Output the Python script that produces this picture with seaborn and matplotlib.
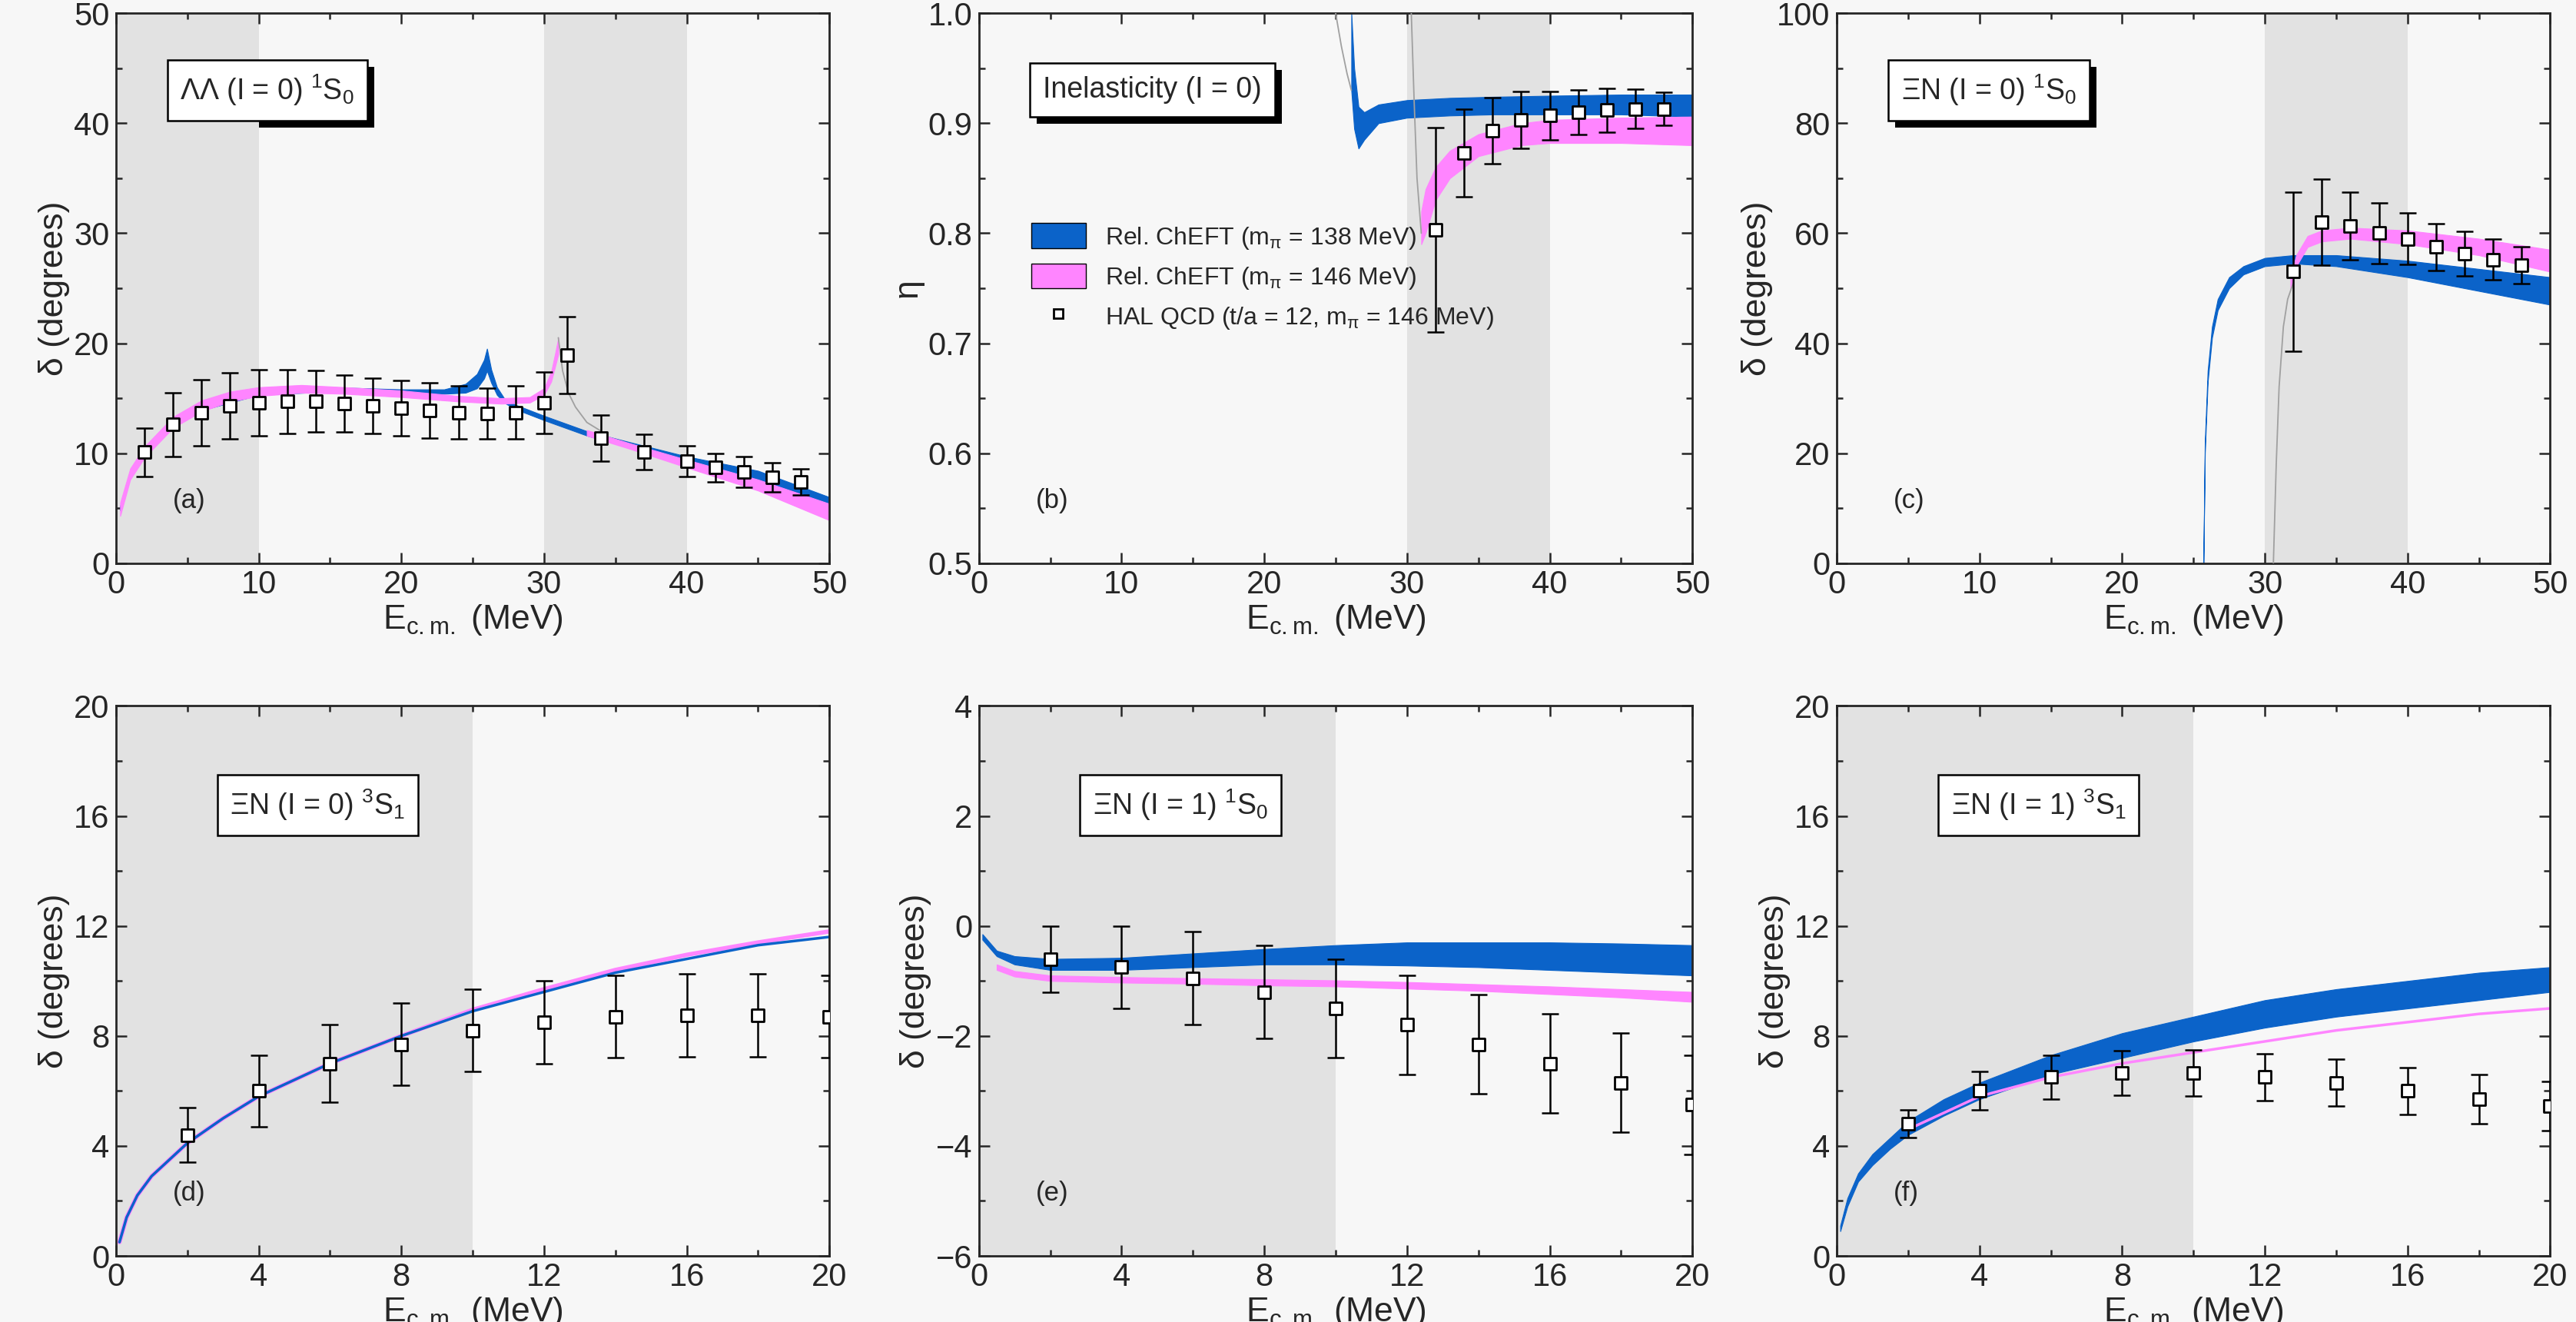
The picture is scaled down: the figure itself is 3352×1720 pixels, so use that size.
import numpy as np
import matplotlib
matplotlib.use("Agg")
import matplotlib.pyplot as plt
from matplotlib.patches import Patch, Rectangle
from matplotlib.lines import Line2D
import seaborn as sns

BLUE = "#0b63c9"
PINK = "#ff85ff"
SHADE = "#e2e2e2"

# ---------------- data ----------------
# (a) LambdaLambda 1S0
a_hal_x = [2, 4, 6, 8, 10, 12, 14, 16, 18, 20, 22, 24, 26, 28, 30, 31.6, 34, 37, 40, 42, 44, 46, 48]
a_hal_y = [10.1, 12.6, 13.7, 14.3, 14.6, 14.7, 14.7, 14.5, 14.3, 14.1, 13.9, 13.7, 13.6, 13.7, 14.6, 18.9, 11.4, 10.1, 9.3, 8.7, 8.3, 7.8, 7.4]
a_hal_e = [2.2, 2.9, 3.0, 3.0, 3.0, 2.9, 2.8, 2.6, 2.5, 2.5, 2.5, 2.4, 2.3, 2.4, 2.8, 3.5, 2.1, 1.6, 1.4, 1.3, 1.4, 1.3, 1.2]
a_blue_x = [0.3, 1, 2, 4, 6, 10, 15, 20, 23, 24.5, 25.3, 25.8, 26.0, 26.3, 26.7, 27.2, 28, 30, 33, 36, 40, 45, 50]
a_blue_lo = [4.8, 7.8, 9.8, 12.4, 13.9, 15.3, 15.6, 15.4, 15.4, 15.5, 15.9, 16.8, 17.5, 16.4, 15.3, 14.6, 14.0, 13.0, 11.6, 10.5, 9.0, 7.4, 5.2]
a_blue_hi = [5.2, 8.2, 10.2, 12.8, 14.3, 15.7, 16.0, 15.8, 15.8, 16.3, 17.2, 18.5, 19.5, 17.6, 16.0, 15.0, 14.4, 13.4, 12.0, 11.0, 9.7, 8.4, 6.0]
a_pink_x = [0.3, 1, 2, 4, 6, 8, 10, 13, 16, 20, 24, 27, 29, 30, 30.5, 30.8, 31.0]
a_pink_lo = [4.3, 7.6, 9.6, 12.3, 13.8, 14.7, 15.2, 15.5, 15.4, 15.1, 14.7, 14.5, 14.6, 15.3, 16.5, 18.0, 19.0]
a_pink_hi = [5.5, 8.6, 10.6, 13.3, 14.8, 15.6, 16.0, 16.2, 16.0, 15.7, 15.2, 15.0, 15.1, 15.9, 17.4, 19.2, 20.5]
a_pink2_x = [33, 36, 40, 45, 50]
a_pink2_lo = [11.6, 10.4, 8.7, 6.6, 3.9]
a_pink2_hi = [12.1, 10.9, 9.4, 7.6, 5.4]
a_grey_x = [31.0, 31.3, 31.7, 32.2, 33, 34]
a_grey_y = [20.5, 17.5, 15.5, 14.2, 12.8, 12.0]

# (b) inelasticity
b_hal_x = [32, 34, 36, 38, 40, 42, 44, 46, 48]
b_hal_y = [0.803, 0.873, 0.893, 0.903, 0.907, 0.910, 0.912, 0.913, 0.913]
b_hal_e = [0.093, 0.040, 0.030, 0.026, 0.022, 0.020, 0.020, 0.018, 0.015]
b_blue_x = [26.1, 26.3, 26.6, 27, 28, 30, 33, 36, 40, 45, 50]
b_blue_lo = [0.93, 0.895, 0.877, 0.885, 0.900, 0.905, 0.907, 0.908, 0.908, 0.908, 0.906]
b_blue_hi = [1.00, 0.950, 0.915, 0.910, 0.917, 0.921, 0.923, 0.924, 0.925, 0.926, 0.926]
b_pink_x = [31.0, 31.3, 32, 33, 35, 38, 40, 45, 50]
b_pink_lo = [0.790, 0.800, 0.830, 0.850, 0.870, 0.880, 0.882, 0.882, 0.880]
b_pink_hi = [0.820, 0.840, 0.860, 0.875, 0.890, 0.900, 0.903, 0.905, 0.906]
b_grey1_x = [25.0, 25.4, 25.8, 26.1]
b_grey1_y = [1.00, 0.97, 0.945, 0.93]
b_grey2_x = [30.3, 30.5, 30.7, 31.0]
b_grey2_y = [1.00, 0.92, 0.85, 0.80]

# (c) XiN I=0 1S0
c_hal_x = [32, 34, 36, 38, 40, 42, 44, 46, 48]
c_hal_y = [53, 62, 61.3, 60, 59, 57.5, 56.3, 55.2, 54.2]
c_hal_e = [14.5, 7.8, 6.2, 5.5, 4.7, 4.3, 4.0, 3.7, 3.3]
c_blue_x = [25.7, 25.8, 26.0, 26.3, 26.7, 27.5, 28.5, 30, 32, 35, 40, 45, 50]
c_blue_lo = [0, 20, 33, 41, 46, 50, 52.5, 54, 54.5, 54, 52, 49.5, 47]
c_blue_hi = [0, 22, 35, 43, 48, 52, 54, 55.5, 56, 56, 55, 53.5, 52]
c_pink_x = [31.8, 32.2, 33, 34, 36, 40, 45, 50]
c_pink_lo = [50, 54, 57.5, 58.5, 59, 58, 56, 53]
c_pink_hi = [52, 56, 59.5, 60.5, 61, 60.5, 59, 57]
c_grey_x = [30.6, 30.8, 31.0, 31.3, 31.6, 32]
c_grey_y = [0, 18, 32, 43, 48, 51]

# (d) XiN I=0 3S1
d_hal_x = [2, 4, 6, 8, 10, 12, 14, 16, 18, 20]
d_hal_y = [4.4, 6.0, 7.0, 7.7, 8.2, 8.5, 8.7, 8.75, 8.75, 8.7]
d_hal_e = [1.0, 1.3, 1.4, 1.5, 1.5, 1.5, 1.5, 1.5, 1.5, 1.5]
d_blue_x = [0.1, 0.3, 0.6, 1, 1.5, 2, 3, 4, 6, 8, 10, 12, 14, 16, 18, 20]
d_blue_y = [0.5, 1.4, 2.2, 2.9, 3.5, 4.1, 5.0, 5.8, 7.0, 8.0, 8.9, 9.6, 10.3, 10.8, 11.3, 11.6]
d_pink_y = [0.5, 1.4, 2.2, 2.9, 3.5, 4.1, 5.0, 5.8, 7.0, 8.0, 8.95, 9.7, 10.4, 10.95, 11.4, 11.8]

# (e) XiN I=1 1S0
e_hal_x = [2, 4, 6, 8, 10, 12, 14, 16, 18, 20]
e_hal_y = [-0.6, -0.75, -0.95, -1.2, -1.5, -1.8, -2.15, -2.5, -2.85, -3.25]
e_hal_e = [0.6, 0.75, 0.85, 0.85, 0.9, 0.9, 0.9, 0.9, 0.9, 0.9]
e_blue_x = [0.1, 0.5, 1, 2, 4, 6, 8, 10, 12, 14, 16, 18, 20]
e_blue_lo = [-0.25, -0.55, -0.7, -0.8, -0.8, -0.75, -0.7, -0.7, -0.72, -0.75, -0.8, -0.85, -0.9]
e_blue_hi = [-0.15, -0.45, -0.55, -0.6, -0.58, -0.5, -0.42, -0.35, -0.3, -0.3, -0.3, -0.32, -0.35]
e_pink_x = [0.5, 1, 2, 4, 6, 8, 10, 12, 14, 16, 18, 20]
e_pink_lo = [-0.8, -0.92, -1.0, -1.03, -1.05, -1.08, -1.1, -1.14, -1.18, -1.24, -1.3, -1.38]
e_pink_hi = [-0.7, -0.82, -0.9, -0.93, -0.95, -0.97, -0.99, -1.02, -1.06, -1.1, -1.15, -1.2]

# (f) XiN I=1 3S1
f_hal_x = [2, 4, 6, 8, 10, 12, 14, 16, 18, 20]
f_hal_y = [4.8, 6.0, 6.5, 6.65, 6.65, 6.5, 6.3, 6.0, 5.7, 5.45]
f_hal_e = [0.5, 0.7, 0.8, 0.8, 0.85, 0.85, 0.85, 0.85, 0.9, 0.9]
f_blue_x = [0.1, 0.3, 0.6, 1, 1.5, 2, 3, 4, 6, 8, 10, 12, 14, 16, 18, 20]
f_blue_lo = [0.9, 1.8, 2.7, 3.3, 3.9, 4.4, 5.1, 5.7, 6.6, 7.2, 7.8, 8.3, 8.7, 9.0, 9.3, 9.6]
f_blue_hi = [1.1, 2.1, 3.0, 3.7, 4.3, 4.9, 5.7, 6.3, 7.3, 8.1, 8.7, 9.3, 9.7, 10.0, 10.3, 10.5]
f_pink_x = [2, 4, 6, 8, 10, 12, 14, 16, 18, 20]
f_pink_y = [4.6, 5.8, 6.5, 7.0, 7.4, 7.8, 8.2, 8.5, 8.8, 9.0]

# ---------------- figure ----------------
sns.set_style("ticks")
plt.rcParams["font.family"] = ["Liberation Sans", "DejaVu Sans"]
plt.rcParams["mathtext.default"] = "regular"
plt.rcParams["font.size"] = 28

fig = plt.figure(figsize=(33.52, 17.2), dpi=100)
fig.patch.set_facecolor("#f7f7f7")
lefts = [0.045, 0.380, 0.713]
w = 0.277
bottoms = [0.574, 0.050]
h = 0.416
axes = []
for r in range(2):
    for c in range(3):
        ax = fig.add_axes([lefts[c], bottoms[r], w, h])
        ax.set_facecolor("#f7f7f7")
        axes.append(ax)

boxes = []


def band(ax, x, lo, hi, color):
    ax.fill_between(x, lo, hi, color=color, lw=0.8, edgecolor=color, zorder=2)


def hal(ax, x, y, e):
    ax.errorbar(x, y, yerr=e, fmt="none", ecolor="black", elinewidth=1.8, capsize=8, capthick=1.8, zorder=4)
    sns.scatterplot(x=x, y=y, ax=ax, marker="s", s=130, facecolor="white", edgecolor="black", linewidth=2, zorder=5)


def grey(ax, x, y):
    sns.lineplot(x=x, y=y, ax=ax, color="#a0a0a0", lw=1.3, zorder=3, sort=False)


def label_box(ax, txt, x=0.09, y=0.86):
    t = ax.text(x, y, txt, transform=ax.transAxes, fontsize=27, va="center", ha="left", zorder=7,
                bbox=dict(boxstyle="square,pad=0.45", fc="white", ec="black", lw=1.8))
    boxes.append((ax, t))


def style(ax, xmax, xstep, ylim, ystep, shaded, ylabel, tag):
    for s0, s1 in shaded:
        ax.axvspan(s0, s1, color=SHADE, lw=0, zorder=0)
    ax.set_xlim(0, xmax)
    ax.set_ylim(*ylim)
    ax.set_xticks(np.arange(0, xmax + 0.1, xstep))
    ax.set_yticks(np.arange(ylim[0], ylim[1] + 1e-9, ystep))
    ax.set_xticks(np.arange(0, xmax + 0.1, xstep / 2), minor=True)
    ax.set_yticks(np.arange(ylim[0], ylim[1] + 1e-9, ystep / 2), minor=True)
    ax.tick_params(which="both", direction="in", top=True, right=True, width=1.8, labelsize=30, pad=6)
    ax.tick_params(which="major", length=10)
    ax.tick_params(which="minor", length=6)
    for sp in ax.spines.values():
        sp.set_linewidth(2)
    ax.set_xlabel(r"E$_{c.m.}$ (MeV)", fontsize=32, labelpad=2)
    ax.set_ylabel(ylabel, fontsize=32, labelpad=4)
    ax.text(0.08, 0.1, tag, transform=ax.transAxes, fontsize=25)


ax = axes[0]
style(ax, 50, 10, (0, 50), 10, [(0, 10), (30, 40)], "δ (degrees)", "(a)")
band(ax, a_blue_x, a_blue_lo, a_blue_hi, BLUE)
band(ax, a_pink_x, a_pink_lo, a_pink_hi, PINK)
band(ax, a_pink2_x, a_pink2_lo, a_pink2_hi, PINK)
grey(ax, a_grey_x, a_grey_y)
hal(ax, a_hal_x, a_hal_y, a_hal_e)
label_box(ax, r"ΛΛ (I = 0) $^1$S$_0$")

ax = axes[1]
style(ax, 50, 10, (0.5, 1.0), 0.1, [(30, 40)], "η", "(b)")
ax.set_yticklabels([f"{v:.1f}" for v in np.arange(0.5, 1.01, 0.1)])
band(ax, b_blue_x, b_blue_lo, b_blue_hi, BLUE)
band(ax, b_pink_x, b_pink_lo, b_pink_hi, PINK)
grey(ax, b_grey1_x, b_grey1_y)
grey(ax, b_grey2_x, b_grey2_y)
hal(ax, b_hal_x, b_hal_y, b_hal_e)
label_box(ax, "Inelasticity (I = 0)", x=0.09, y=0.86)
handles = [Patch(fc=BLUE, ec="black", lw=1), Patch(fc=PINK, ec="black", lw=1),
           Line2D([], [], ls="none", marker="s", ms=9, mfc="white", mec="black", mew=2)]
ax.legend(handles, [r"Rel. ChEFT (m$_\pi$ = 138 MeV)", r"Rel. ChEFT (m$_\pi$ = 146 MeV)",
                    r"HAL QCD (t/a = 12, m$_\pi$ = 146 MeV)"],
          loc="center left", bbox_to_anchor=(0.06, 0.52), frameon=False, fontsize=23,
          handlelength=2.2, handleheight=1.2, labelspacing=0.5, borderaxespad=0)

ax = axes[2]
style(ax, 50, 10, (0, 100), 20, [(30, 40)], "δ (degrees)", "(c)")
band(ax, c_blue_x, c_blue_lo, c_blue_hi, BLUE)
band(ax, c_pink_x, c_pink_lo, c_pink_hi, PINK)
grey(ax, c_grey_x, c_grey_y)
hal(ax, c_hal_x, c_hal_y, c_hal_e)
label_box(ax, r"ΞN (I = 0) $^1$S$_0$")

ax = axes[3]
style(ax, 20, 4, (0, 20), 4, [(0, 10)], "δ (degrees)", "(d)")
sns.lineplot(x=d_blue_x, y=d_pink_y, ax=ax, color=PINK, lw=4, zorder=2)
sns.lineplot(x=d_blue_x, y=d_blue_y, ax=ax, color=BLUE, lw=2.5, zorder=2)
hal(ax, d_hal_x, d_hal_y, d_hal_e)
label_box(ax, r"ΞN (I = 0) $^3$S$_1$", x=0.16, y=0.82)

ax = axes[4]
style(ax, 20, 4, (-6, 4), 2, [(0, 10)], "δ (degrees)", "(e)")
band(ax, e_blue_x, e_blue_lo, e_blue_hi, BLUE)
band(ax, e_pink_x, e_pink_lo, e_pink_hi, PINK)
hal(ax, e_hal_x, e_hal_y, e_hal_e)
label_box(ax, r"ΞN (I = 1) $^1$S$_0$", x=0.16, y=0.82)

ax = axes[5]
style(ax, 20, 4, (0, 20), 4, [(0, 10)], "δ (degrees)", "(f)")
band(ax, f_blue_x, f_blue_lo, f_blue_hi, BLUE)
sns.lineplot(x=f_pink_x, y=f_pink_y, ax=ax, color=PINK, lw=2.5, zorder=2)
hal(ax, f_hal_x, f_hal_y, f_hal_e)
label_box(ax, r"ΞN (I = 1) $^3$S$_1$", x=0.16, y=0.82)

# black drop shadows behind the label boxes
fig.canvas.draw()
for ax, t in boxes:
    bb = t.get_bbox_patch().get_window_extent()
    fig.patches.append(Rectangle((bb.x0 + 9, bb.y0 - 9), bb.width, bb.height, transform=None,
                                 fc="black", ec="none", zorder=1))
    ax.set_zorder(2)
for ax in axes:
    ax.patch.set_alpha(0)
fig.patches.extend([])

fig.savefig("out.png", dpi=100, facecolor=fig.get_facecolor())
